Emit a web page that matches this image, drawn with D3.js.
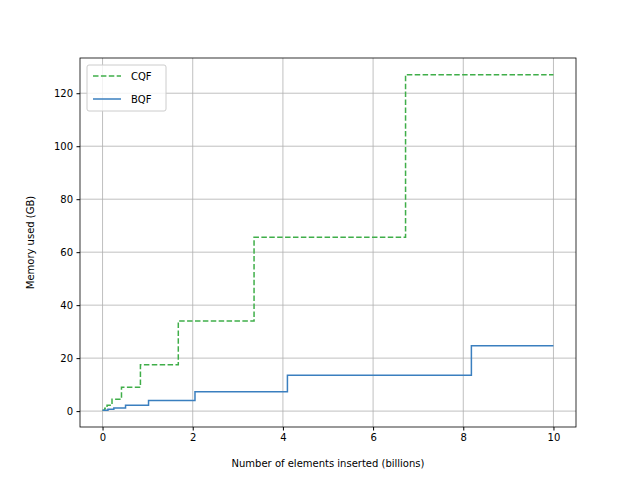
<!DOCTYPE html><html><head><script src="https://cdn.jsdelivr.net/npm/d3@7"></script>
<style>body{margin:0;background:#fff}text{font-family:"DejaVu Sans",sans-serif}</style></head><body><svg id="c" width="640" height="480"></svg><script>
const cqfX=[0,0.05,0.1,0.21,0.42,0.84,1.68,3.36,6.72,10];
const cqfY=[0.3,1.1,2.2,4.5,9,17.5,34,65.6,127,127];
const bqfX=[0,0.12,0.25,0.51,1.02,2.05,4.1,8.18,10];
const bqfY=[0.3,0.7,1.2,2.2,4,7.3,13.5,24.7,24.7];
const xTicks=[0,2,4,6,8,10], yTicks=[0,20,40,60,80,100,120];
const svg=d3.select("#c");
const L=80,R=576,T=58,B=427;
const x=d3.scaleLinear().domain([-0.5,10.5]).range([L,R]);
const y=d3.scaleLinear().domain([-6,133.3]).range([B,T]);
const g=svg.append("g");
xTicks.forEach(t=>g.append("line").attr("x1",x(t)).attr("x2",x(t)).attr("y1",T).attr("y2",B).attr("stroke","#b0b0b0").attr("stroke-width",0.8));
yTicks.forEach(t=>g.append("line").attr("y1",y(t)).attr("y2",y(t)).attr("x1",L).attr("x2",R).attr("stroke","#b0b0b0").attr("stroke-width",0.8));
const line=d3.line().x(d=>x(d[0])).y(d=>y(d[1])).curve(d3.curveStepAfter);
svg.append("path").attr("d",line(cqfX.map((v,i)=>[v,cqfY[i]]))).attr("fill","none").attr("stroke","#3fae49").attr("stroke-width",1.5).attr("stroke-dasharray","5.5,2.4");
svg.append("path").attr("d",line(bqfX.map((v,i)=>[v,bqfY[i]]))).attr("fill","none").attr("stroke","#3a7fbf").attr("stroke-width",1.5);
svg.append("g").attr("transform",`translate(0,${B})`).call(d3.axisBottom(x).tickValues(xTicks).tickSize(3.5).tickPadding(3.5)).call(a=>{a.select(".domain").remove();a.selectAll("text").attr("font-size",10).attr("font-family","DejaVu Sans")});
svg.append("g").attr("transform",`translate(${L},0)`).call(d3.axisLeft(y).tickValues(yTicks).tickSize(3.5).tickPadding(3.5)).call(a=>{a.select(".domain").remove();a.selectAll("text").attr("font-size",10).attr("font-family","DejaVu Sans")});
svg.append("rect").attr("x",L).attr("y",T).attr("width",R-L).attr("height",B-T).attr("fill","none").attr("stroke","#000").attr("stroke-width",0.8);
svg.append("text").attr("x",(L+R)/2).attr("y",467).attr("text-anchor","middle").attr("font-size",10).text("Number of elements inserted (billions)");
svg.append("text").attr("transform",`translate(34,${(T+B)/2}) rotate(-90)`).attr("text-anchor","middle").attr("font-size",10).text("Memory used (GB)");
const lg=svg.append("g").attr("transform","translate(87,65)");
lg.append("rect").attr("width",79).attr("height",46).attr("rx",2).attr("fill","#fff").attr("fill-opacity",0.8).attr("stroke","#ccc");
[["CQF","#3fae49","5.5,2.4"],["BQF","#3a7fbf",null]].forEach((d,i)=>{const yy=11+i*23;
lg.append("line").attr("x1",6).attr("x2",34).attr("y1",yy).attr("y2",yy).attr("stroke",d[1]).attr("stroke-width",1.5).attr("stroke-dasharray",d[2]);
lg.append("text").attr("x",44).attr("y",yy+3.5).attr("font-size",10).text(d[0]);});
</script></body></html>
